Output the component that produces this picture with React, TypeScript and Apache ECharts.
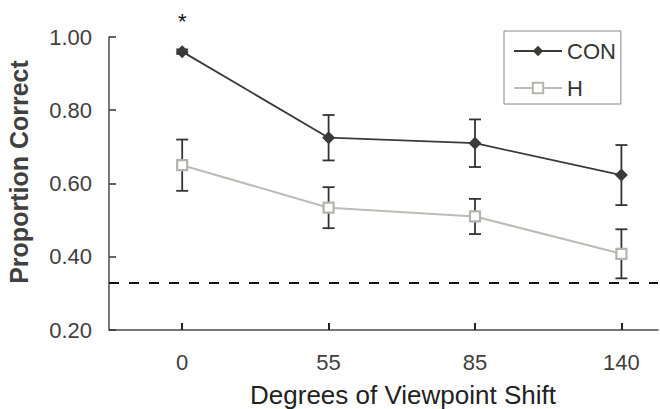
import React, { useEffect, useRef } from "react";
import * as echarts from "echarts";

const categories = ["0", "55", "85", "140"];
const conMeans = [0.96, 0.725, 0.71, 0.623];
const conErr = [0.006, 0.062, 0.065, 0.082];
const hMeans = [0.65, 0.534, 0.51, 0.408];
const hErr = [0.07, 0.056, 0.048, 0.067];
const chanceLevel = 0.325;
const yTickLabels = ["0.20", "0.40", "0.60", "0.80", "1.00"];
const seriesNames = ["CON", "H"];
const xTitle = "Degrees of Viewpoint Shift";
const yTitle = "Proportion Correct";
const starText = "*";

const FONT = "'Liberation Sans', Arial, Helvetica, sans-serif";

export default function App() {
  const ref = useRef<HTMLDivElement>(null);
  useEffect(() => {
    document.body.style.margin = "0";
    const chart = echarts.init(ref.current!, null, { renderer: "svg" });
    const idx = categories.map((_, i) => i);
    const conData = idx.map((i) =>
      i === 0
        ? {
            value: [i, conMeans[i]],
            label: {
              show: true,
              position: "top",
              distance: 13,
              formatter: starText,
              fontSize: 22,
              color: "#111",
              fontFamily: FONT,
            },
          }
        : { value: [i, conMeans[i]] }
    );
    const hData = idx.map((i) => [i, hMeans[i]]);
    const errData = [
      ...idx.map((i) => [i, conMeans[i] - conErr[i], conMeans[i] + conErr[i]]),
      ...idx.map((i) => [i, hMeans[i] - hErr[i], hMeans[i] + hErr[i]]),
    ];
    const option: any = {
      animation: false,
      grid: { left: 109, right: 2, top: 37, bottom: 79, containLabel: false },
      xAxis: {
        type: "value",
        min: -0.5,
        max: 3.25,
        axisLine: { show: true, onZero: false, lineStyle: { color: "#4d4d4d", width: 1.5 } },
        axisTick: {
          show: true,
          inside: true,
          length: 7,
          lineStyle: { color: "#222", width: 2 },
          customValues: idx,
        },
        axisLabel: {
          customValues: idx,
          formatter: (v: number) => categories[Math.round(v)] ?? "",
          fontSize: 22,
          color: "#404040",
          fontFamily: FONT,
          margin: 21,
        },
        splitLine: { show: false },
      },
      yAxis: {
        type: "value",
        min: 0.2,
        max: 1.0,
        interval: 0.2,
        axisLine: { show: true, onZero: false, lineStyle: { color: "#4d4d4d", width: 1.5 } },
        axisTick: { show: true, inside: true, length: 7, lineStyle: { color: "#333", width: 1.5 } },
        axisLabel: {
          formatter: (v: number) => yTickLabels[Math.round((v - 0.2) / 0.2)] ?? "",
          fontSize: 22,
          color: "#404040",
          fontFamily: FONT,
          margin: 17,
        },
        splitLine: { show: false },
      },
      legend: {
        orient: "vertical",
        left: 504,
        top: 31,
        padding: [9, 5, 5, 9],
        itemGap: 15,
        itemWidth: 48,
        itemHeight: 13,
        borderColor: "#888",
        borderWidth: 1,
        borderRadius: 0,
        backgroundColor: "#fff",
        textStyle: { fontSize: 22, color: "#333", fontFamily: FONT },
        data: seriesNames,
      },
      graphic: [
        {
          type: "text",
          x: 403,
          y: 395,
          style: {
            text: xTitle,
            font: `26px ${FONT}`,
            fill: "#222",
            align: "center",
            verticalAlign: "middle",
          },
        },
        {
          type: "text",
          x: 19,
          y: 172,
          rotation: Math.PI / 2,
          style: {
            text: yTitle,
            font: `bold 25px ${FONT}`,
            fill: "#404040",
            align: "center",
            verticalAlign: "middle",
          },
        },
      ],
      series: [
        {
          type: "custom",
          name: "err",
          z: 1,
          silent: true,
          data: errData,
          renderItem: (params: any, api: any) => {
            const x = api.value(0);
            const lo = api.coord([x, api.value(1)]);
            const hi = api.coord([x, api.value(2)]);
            const hw = 6;
            const style = { stroke: "#333", lineWidth: 1.8 };
            return {
              type: "group",
              children: [
                { type: "line", shape: { x1: lo[0], y1: lo[1], x2: hi[0], y2: hi[1] }, style },
                { type: "line", shape: { x1: lo[0] - hw, y1: lo[1], x2: lo[0] + hw, y2: lo[1] }, style },
                { type: "line", shape: { x1: hi[0] - hw, y1: hi[1], x2: hi[0] + hw, y2: hi[1] }, style },
              ],
            };
          },
        },
        {
          type: "line",
          name: seriesNames[1],
          z: 3,
          data: hData,
          symbol: "rect",
          symbolSize: 10,
          lineStyle: { color: "#bdbbb9", width: 2 },
          itemStyle: { color: "#fff", borderColor: "#b5b3b1", borderWidth: 2.2 },
          markLine: {
            silent: true,
            symbol: ["none", "none"],
            label: { show: false },
            lineStyle: { color: "#111", width: 2.2, type: [10, 10] },
            data: [{ yAxis: chanceLevel }],
          },
        },
        {
          type: "line",
          name: seriesNames[0],
          z: 4,
          data: conData,
          symbol: "diamond",
          symbolSize: 13,
          lineStyle: { color: "#3a3a38", width: 1.8 },
          itemStyle: { color: "#3a3a38" },
        },
      ],
    };
    chart.setOption(option);
    return () => chart.dispose();
  }, []);
  return <div ref={ref} style={{ width: 660, height: 409 }} />;
}
